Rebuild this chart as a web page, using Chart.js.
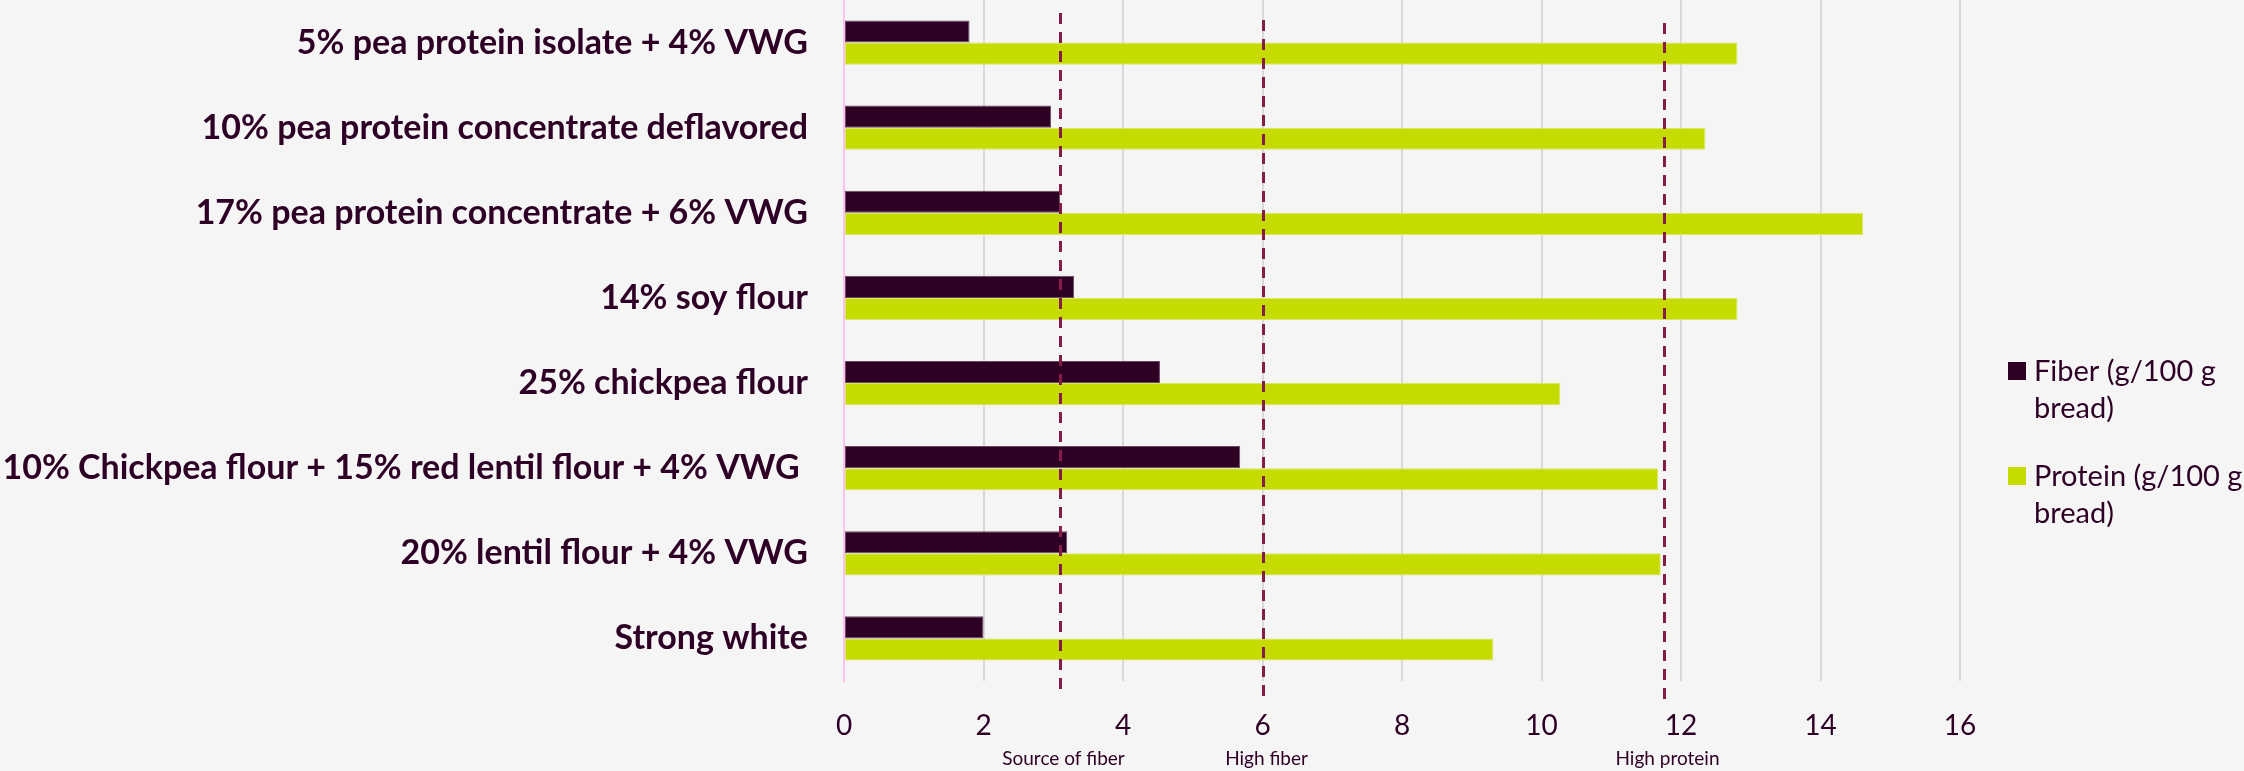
<!DOCTYPE html>
<html>
<head>
<meta charset="utf-8">
<script src="https://cdn.jsdelivr.net/npm/chart.js@4/dist/chart.umd.min.js"></script>
<style>
  html, body { margin: 0; padding: 0; background: #f5f5f5; }
  #wrap { width: 2244px; height: 771px; position: relative; }
</style>
</head>
<body>
<div id="wrap"><canvas id="c" width="2244" height="771"></canvas></div>
<script>
// ---- data ----
const categories = [
  "5% pea protein isolate + 4% VWG",
  "10% pea protein concentrate deflavored",
  "17% pea protein concentrate + 6% VWG",
  "14% soy flour",
  "25% chickpea flour",
  "10% Chickpea flour + 15% red lentil flour + 4% VWG ",
  "20% lentil flour + 4% VWG",
  "Strong white"
];
const seriesNames = ["Fiber (g/100 g bread)", "Protein (g/100 g bread)"];
const fiberValues   = [1.8, 2.97, 3.1, 3.3, 4.53, 5.68, 3.2, 2.0];
const proteinValues = [12.81, 12.35, 14.61, 12.81, 10.27, 11.67, 11.71, 9.31];
const xTicks = [0, 2, 4, 6, 8, 10, 12, 14, 16];
const refValues = [3.1, 6.0, 11.76];
const refLabels = ["Source of fiber", "High fiber", "High protein"];

// ---- styles ----
const FONT = "Lato, 'Open Sans', sans-serif";
const TEXT = "#2e0026";
const FIBER = "#2e0024";
const PROTEIN = "#c6dc00";

const refPlugin = {
  id: 'refLines',
  afterDatasetsDraw(chart) {
    const ctx = chart.ctx, xs = chart.scales.x;
    const tops = [13, 20, 23], bottoms = [695, 702, 705];
    ctx.save();
    refValues.forEach((v, i) => {
      const x = Math.round(xs.getPixelForValue(v)) + 0.5;
      ctx.beginPath();
      ctx.setLineDash([11, 8]);
      ctx.lineWidth = 3;
      ctx.strokeStyle = "#861c48";
      ctx.moveTo(x, tops[i]);
      ctx.lineTo(x, bottoms[i]);
      ctx.stroke();
      ctx.setLineDash([]);
      ctx.fillStyle = TEXT;
      ctx.font = "19px " + FONT;
      ctx.textAlign = "center";
      ctx.textBaseline = "alphabetic";
      ctx.fillText(refLabels[i], x + 3, 765);
    });
    ctx.restore();
  }
};

const legendPlugin = {
  id: 'sideLegend',
  afterDraw(chart) {
    const ctx = chart.ctx;
    const sqX = 2008, txtX = 2034;
    const rowTop = [362, 467];
    ctx.save();
    chart.data.datasets.forEach((ds, i) => {
      ctx.fillStyle = ds.backgroundColor;
      ctx.fillRect(sqX, rowTop[i], 18, 18);
      const words = ds.label.split(' ');
      const lines = [words.slice(0, -1).join(' '), words[words.length - 1]];
      ctx.fillStyle = TEXT;
      ctx.font = "29px " + FONT;
      ctx.textAlign = "left";
      ctx.textBaseline = "middle";
      lines.forEach((ln, j) => ctx.fillText(ln, txtX, rowTop[i] + 10 + j * 37));
    });
    ctx.restore();
  }
};

new Chart(document.getElementById('c'), {
  type: 'bar',
  data: {
    labels: categories,
    datasets: [
      { label: seriesNames[0], data: fiberValues, backgroundColor: FIBER,
        borderColor: "#6b4a62", borderWidth: 1, borderSkipped: false,
        categoryPercentage: 0.52, barPercentage: 1.0 },
      { label: seriesNames[1], data: proteinValues, backgroundColor: PROTEIN,
        borderColor: "#d9e86a", borderWidth: 1, borderSkipped: false,
        categoryPercentage: 0.52, barPercentage: 1.0 }
    ]
  },
  options: {
    indexAxis: 'y',
    responsive: false,
    animation: false,
    events: [],
    layout: { padding: { left: 0, right: 284, top: 0, bottom: 0 } },
    plugins: { legend: { display: false }, tooltip: { enabled: false } },
    scales: {
      x: {
        min: 0, max: 16,
        afterBuildTicks(axis) { axis.ticks = xTicks.map(v => ({ value: v })); },
        afterFit(axis) { axis.height = 90; axis.paddingLeft = 0; axis.paddingRight = 0; },
        ticks: { color: TEXT, font: { family: FONT, size: 28 }, padding: 28 },
        grid: { color: "#d9d9d9", lineWidth: 2, drawTicks: false },
        border: { display: false }
      },
      y: {
        afterFit(axis) { axis.width = 844; axis.paddingTop = 0; axis.paddingBottom = 0; },
        ticks: { color: TEXT, font: { family: FONT, size: 34, weight: 'bold' }, padding: 36 },
        grid: { display: false, drawTicks: false },
        border: { display: true, color: "#ffc2f0", width: 2 }
      }
    }
  },
  plugins: [refPlugin, legendPlugin, {
    id: 'bg',
    beforeDraw(chart) {
      const c = chart.ctx; c.save(); c.fillStyle = '#f5f5f5';
      c.fillRect(0, 0, chart.width, chart.height); c.restore();
    }
  }]
});
</script>
</body>
</html>
